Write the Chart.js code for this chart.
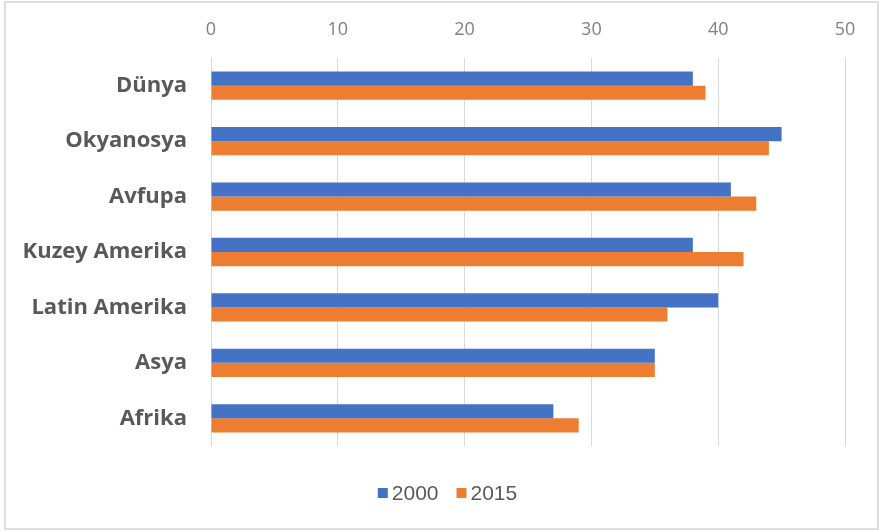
<!DOCTYPE html>
<html>
<head>
<meta charset="utf-8">
<script src="https://cdn.jsdelivr.net/npm/chart.js@4"></script>
<style>
  html, body { margin: 0; padding: 0; background: #ffffff; }
  #wrap { position: relative; width: 881px; height: 532px; }
</style>
</head>
<body>
<div id="wrap"><canvas id="c" width="881" height="532"></canvas></div>
<script>
const regions = ['Dünya', 'Okyanosya', 'Avfupa', 'Kuzey Amerika', 'Latin Amerika', 'Asya', 'Afrika'];
const values2000 = [38, 45, 41, 38, 40, 35, 27];
const values2015 = [39, 44, 43, 42, 36, 35, 29];
const seriesNames = ['2000', '2015'];
const seriesColors = ['#4472C4', '#ED7D31'];

// Outer light frame around the chart
const framePlugin = {
  id: 'frame',
  beforeDraw(chart) {
    const ctx = chart.ctx;
    ctx.save();
    ctx.fillStyle = '#ffffff';
    ctx.fillRect(0, 0, chart.width, chart.height);
    ctx.strokeStyle = '#dedede';
    ctx.lineWidth = 2;
    ctx.strokeRect(5, 2, 873, 527);
    ctx.restore();
  }
};

// Legend drawn centred under the chart: square swatch followed by the series name
const legendPlugin = {
  id: 'bottomLegend',
  afterDraw(chart) {
    const ctx = chart.ctx;
    ctx.save();
    ctx.font = '21px "Liberation Sans", Arial, sans-serif';
    ctx.textBaseline = 'middle';
    const box = 10, gap = 4, spacing = 18;
    const items = chart.data.datasets.map(d => ({ label: d.label, color: d.backgroundColor, w: box + gap + ctx.measureText(d.label).width }));
    const total = items.reduce((s, it) => s + it.w, 0) + spacing * (items.length - 1);
    let x = chart.width / 2 + 7 - total / 2;
    const y = 493;
    items.forEach(it => {
      ctx.fillStyle = it.color;
      ctx.fillRect(x, y - box / 2, box, box);
      ctx.fillStyle = '#595959';
      ctx.fillText(it.label, x + box + gap, y + 1);
      x += it.w + spacing;
    });
    ctx.restore();
  }
};

new Chart(document.getElementById('c'), {
  type: 'bar',
  data: {
    labels: regions,
    datasets: [
      { label: seriesNames[0], data: values2000, backgroundColor: seriesColors[0] },
      { label: seriesNames[1], data: values2015, backgroundColor: seriesColors[1] }
    ]
  },
  options: {
    indexAxis: 'y',
    responsive: false,
    animation: false,
    events: [],
    layout: { padding: { top: 10, left: 10, right: 36, bottom: 86 } },
    datasets: { bar: { categoryPercentage: 0.51, barPercentage: 1.0 } },
    scales: {
      x: {
        position: 'top',
        min: 0,
        max: 50,
        ticks: {
          stepSize: 10,
          padding: 17,
          color: '#808080',
          font: { family: '"Open Sans", sans-serif', size: 18 }
        },
        grid: { color: '#d9d9d9', lineWidth: 1, drawTicks: false },
        border: { display: false },
        afterFit(scale) { scale.height = 48; }
      },
      y: {
        ticks: {
          padding: 24,
          color: '#595959',
          font: { family: '"Open Sans", sans-serif', size: 22, weight: 'bold' }
        },
        grid: { display: false, drawTicks: false },
        border: { display: false },
        afterFit(scale) { scale.width = 201; }
      }
    },
    plugins: {
      legend: { display: false },
      tooltip: { enabled: false }
    }
  },
  plugins: [framePlugin, legendPlugin]
});
</script>
</body>
</html>
